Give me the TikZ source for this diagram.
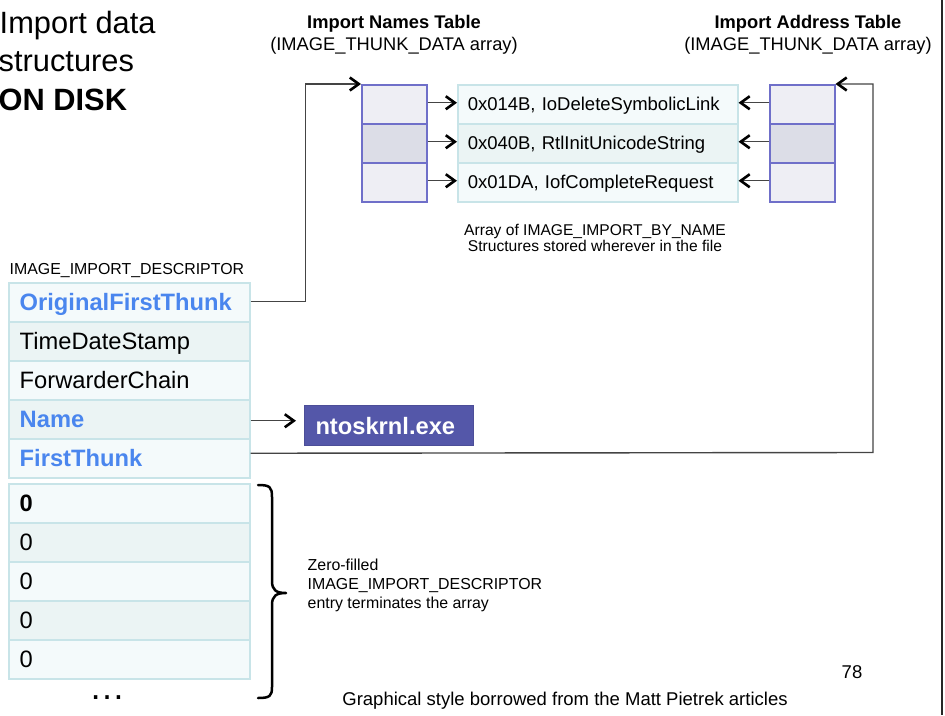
\documentclass[tikz,border=0pt]{standalone}
\usepackage{fontspec}
\setmainfont{Liberation Sans}
\usetikzlibrary{arrows.meta}

\definecolor{fieldblue}{HTML}{4A86EE}
\definecolor{cellA}{HTML}{F4FAFB}
\definecolor{cellB}{HTML}{EBF4F4}
\definecolor{cellrule}{HTML}{C8E4E8}
\definecolor{thunkA}{HTML}{EEEEF4}
\definecolor{thunkB}{HTML}{DCDDE7}
\definecolor{thunkrule}{HTML}{6F6FC9}
\definecolor{dllfill}{HTML}{5457A9}
\definecolor{wire}{HTML}{444444}

\newcommand\fsz[1]{\fontsize{#1}{#1}\selectfont}

\begin{document}
\begin{tikzpicture}[x=1pt,y=-1pt,
  txt/.style={inner sep=0pt},
  desc/.style={draw=cellrule, line width=1.5pt, minimum height=39pt,
    text width=219pt, inner xsep=11pt, inner ysep=0pt, align=left,
    text height=17pt, text depth=0pt, font=\fsz{23.7}, anchor=north west},
  field/.style={text=fieldblue, font=\fsz{23.7}\bfseries},
  impname/.style={draw=cellrule, line width=1.5pt, minimum height=39pt,
    text width=260pt, inner xsep=10pt, inner ysep=0pt, align=left,
    text height=13.2pt, text depth=0pt, font=\fsz{18.5}, anchor=north west},
  thunk/.style={draw=thunkrule, line width=1.5pt, minimum width=65pt,
    minimum height=39pt, inner sep=0pt, anchor=north west},
  wireline/.style={draw=wire, line width=1.4pt},
  arr/.style={wireline, -{Straight Barb[length=9pt,width=13pt,line width=2.6pt,color=black]}}
]
\useasboundingbox (0,0) rectangle (945,715);

% slide title
\node[txt, anchor=base west, font=\fsz{30.8}] (t1) at (-0.5,33) {Import data};
\node[txt, anchor=base west, font=\fsz{30.8}] (t2) at (-1.5,71.5) {structures};
\node[txt, anchor=base west, font=\fsz{30.8}\bfseries] (t3) at (-1.5,110) {ON DISK};

% table headers
\node[txt, anchor=base, font=\fsz{18.3}\bfseries] (intT) at (394,28.5) {Import Names Table};
\node[txt, anchor=base, font=\fsz{18.3}] (intS) at (394,50) {(IMAGE\_THUNK\_DATA array)};
\node[txt, anchor=base, font=\fsz{18.3}\bfseries] (iatT) at (808,28.5) {Import Address Table};
\node[txt, anchor=base, font=\fsz{18.3}] (iatS) at (808,50) {(IMAGE\_THUNK\_DATA array)};

% import names table
\node[thunk, fill=thunkA] (n1) at (361,84) {};
\node[thunk, fill=thunkB] (n2) at (361,123) {};
\node[thunk, fill=thunkA] (n3) at (361,162) {};

% hint/name structures
\node[impname, fill=cellA] (m1) at (457,84) {0x014B, IoDeleteSymbolicLink};
\node[impname, fill=cellB] (m2) at (457,123) {0x040B, RtlInitUnicodeString};
\node[impname, fill=cellA] (m3) at (457,162) {0x01DA, IofCompleteRequest};

% import address table
\node[thunk, fill=thunkA] (i1) at (769,84) {};
\node[thunk, fill=thunkB] (i2) at (769,123) {};
\node[thunk, fill=thunkA] (i3) at (769,162) {};

\node[txt, anchor=base, font=\fsz{15.6}] (cap1) at (595,235) {Array of IMAGE\_IMPORT\_BY\_NAME};
\node[txt, anchor=base, font=\fsz{15.6}] (cap2) at (595,251) {Structures stored wherever in the file};

% descriptor
\node[txt, anchor=base west, font=\fsz{15.9}] (dlab) at (9.5,274.3) {IMAGE\_IMPORT\_DESCRIPTOR};
\node[desc, fill=cellA, field] (d1) at (8,282) {OriginalFirstThunk};
\node[desc, fill=cellB] (d2) at (8,321) {TimeDateStamp};
\node[desc, fill=cellA] (d3) at (8,360) {ForwarderChain};
\node[desc, fill=cellB, field] (d4) at (8,399) {Name};
\node[desc, fill=cellA, field] (d5) at (8,438) {FirstThunk};

% terminating zero entry
\node[desc, fill=cellA, font=\fsz{23.7}\bfseries] (z1) at (8,483) {0};
\node[desc, fill=cellB] (z2) at (8,522) {0};
\node[desc, fill=cellA] (z3) at (8,561) {0};
\node[desc, fill=cellB] (z4) at (8,600) {0};
\node[desc, fill=cellA] (z5) at (8,639) {0};
\node[txt, anchor=base, font=\fsz{36}] (more) at (107,699) {…};

% dll name
\node[fill=dllfill, draw=dllfill!90!black, line width=1pt, anchor=north west,
  minimum height=40pt, text width=147pt, inner xsep=11pt, inner ysep=0pt,
  align=left, text height=17pt, text depth=0pt,
  text=white, font=\fsz{23.7}\bfseries] (dll) at (304,405) {ntoskrnl.exe};

% pointers
\foreach \k in {1,2,3} {
  \draw[arr] ([yshift=1.5pt]n\k.east) -- ([yshift=1.5pt]m\k.west);
  \draw[arr] ([yshift=1.5pt]i\k.west) -- ([yshift=1.5pt]m\k.east);
}
\draw[arr] ([yshift=1pt]d1.east) -- ++(55,0) |- (n1.north west);
\draw[arr, shorten >=8pt] ([yshift=-1.5pt]d4.east) -- ([yshift=-1.5pt]d4.east -| dll.west);
\coordinate (ftc) at (873,452.5);
\draw[arr] ([yshift=5pt]d5.east) -- (ftc) |- (i1.north east);

% brace around the zero entry
\draw[line width=2.5pt, line cap=round, line join=round]
  (258,485) .. controls (270,485) and (272,487) .. (272,497) -- (272,581)
  .. controls (272,590) and (276,593) .. (286,593)
  .. controls (276,593) and (272,596) .. (272,605) -- (272,687)
  .. controls (272,696) and (270,698) .. (258,698);
\node[txt, anchor=base west, font=\fsz{15.9}] (zf1) at (307.5,570) {Zero-filled};
\node[txt, anchor=base west, font=\fsz{15.9}] (zf2) at (307.5,589) {IMAGE\_IMPORT\_DESCRIPTOR};
\node[txt, anchor=base west, font=\fsz{15.9}] (zf3) at (307.5,608) {entry terminates the array};

% footer
\node[txt, anchor=base, font=\fsz{18.5}] (pg) at (852,678) {78};
\node[txt, anchor=base, font=\fsz{18.5}] (credit) at (565,705) {Graphical style borrowed from the Matt Pietrek articles};

% slide edge
\draw[line width=1.5pt, black!85] (942,0) -- (942,715);
\end{tikzpicture}
\end{document}
